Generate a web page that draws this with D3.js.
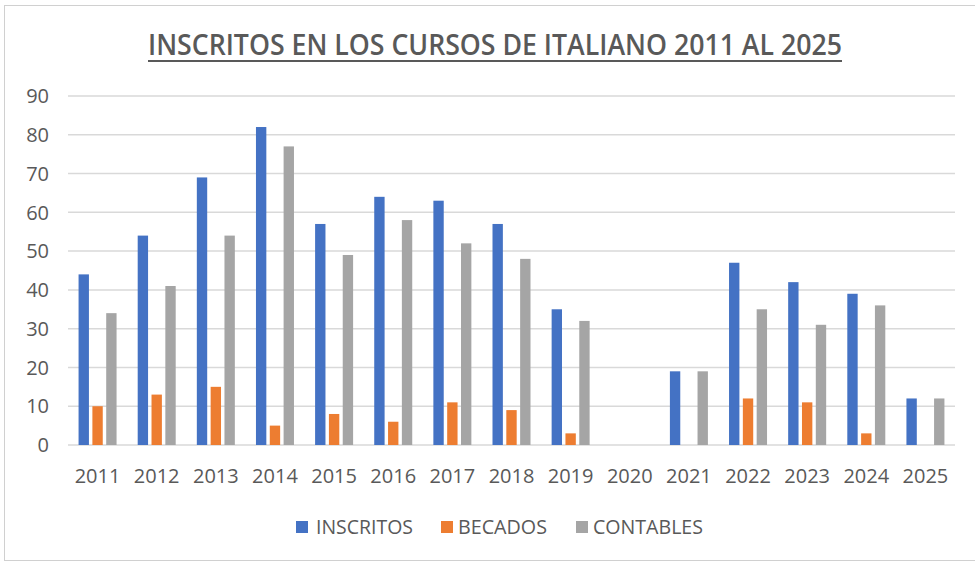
<!DOCTYPE html>
<html lang="en">
<head>
<meta charset="utf-8">
<title>Inscritos cursos de italiano</title>
<script src="https://d3js.org/d3.v7.min.js"></script>
<style>
  body { margin: 0; background: #fff; }
  text { font-family: "Open Sans", "Liberation Sans", sans-serif; fill: #595959; }
</style>
</head>
<body>
<svg width="975" height="561"></svg>
<script>
// data
const years = ["2011","2012","2013","2014","2015","2016","2017","2018","2019","2020","2021","2022","2023","2024","2025"];
const inscritos = [44, 54, 69, 82, 57, 64, 63, 57, 35, 0, 19, 47, 42, 39, 12];
const becados   = [10, 13, 15, 5, 8, 6, 11, 9, 3, 0, 0, 12, 11, 3, 0];
const contables = [34, 41, 54, 77, 49, 58, 52, 48, 32, 0, 19, 35, 31, 36, 12];
const seriesNames = ["INSCRITOS", "BECADOS", "CONTABLES"];
const colors = ["#4472c4", "#ed7d31", "#a5a5a5"];
const yTicks = [0, 10, 20, 30, 40, 50, 60, 70, 80, 90];

const svg = d3.select("svg");
const width = 975, height = 561;

// frame
svg.append("rect")
    .attr("x", 4.5).attr("y", 5.5)
    .attr("width", width - 4).attr("height", height - 6)
    .attr("fill", "none").attr("stroke", "#d0d0d0");

const x = d3.scaleBand().domain(years).range([68, 955]);
const y = d3.scaleLinear().domain([0, 90]).range([445, 96]);
const sub = d3.scaleBand().domain(seriesNames).range([x.bandwidth()/2 - 19, x.bandwidth()/2 + 19]).paddingInner(0.25);

// gridlines
svg.append("g")
    .selectAll("line")
    .data(yTicks)
    .join("line")
    .attr("x1", 68).attr("x2", 955)
    .attr("y1", d => y(d)).attr("y2", d => y(d))
    .attr("stroke", "#d9d9d9")
    .attr("stroke-width", 1.5);

// y labels
svg.append("g")
    .selectAll("text")
    .data(yTicks)
    .join("text")
    .attr("x", 49).attr("y", d => y(d))
    .attr("dy", "0.36em")
    .attr("text-anchor", "end")
    .style("font-size", "20px")
    .text(d => d);

// x labels
svg.append("g")
    .selectAll("text")
    .data(years)
    .join("text")
    .attr("x", d => x(d) + x.bandwidth()/2)
    .attr("y", 483)
    .attr("text-anchor", "middle")
    .style("font-size", "20px")
    .text(d => d);

// bars
const allSeries = [inscritos, becados, contables];
const rows = [];
years.forEach((yr, i) => {
    allSeries.forEach((s, j) => rows.push({year: yr, key: seriesNames[j], value: s[i], color: colors[j]}));
});

svg.append("g")
    .selectAll("rect")
    .data(rows.filter(d => d.value > 0))
    .join("rect")
    .attr("x", d => x(d.year) + sub(d.key))
    .attr("width", sub.bandwidth())
    .attr("y", d => y(d.value))
    .attr("height", d => y(0) - y(d.value))
    .attr("fill", d => d.color);

// title
svg.append("text")
    .attr("x", 495).attr("y", 55)
    .attr("text-anchor", "middle")
    .attr("textLength", 694)
    .attr("lengthAdjust", "spacingAndGlyphs")
    .style("font-size", "28px")
    .style("font-weight", "600")
    .text("INSCRITOS EN LOS CURSOS DE ITALIANO 2011 AL 2025");
svg.append("line")
    .attr("x1", 148).attr("x2", 842)
    .attr("y1", 61).attr("y2", 61)
    .attr("stroke", "#595959").attr("stroke-width", 2);

// legend
const legendX = [296, 441, 576];
const legendW = [97, 89, 110];
const legendPad = [20, 17, 17];
const legend = svg.append("g")
    .selectAll("g")
    .data(seriesNames)
    .join("g")
    .attr("transform", (d, i) => `translate(${legendX[i]},527)`);
legend.append("rect")
    .attr("x", 0).attr("y", -6)
    .attr("width", 12).attr("height", 12)
    .attr("fill", (d, i) => colors[i]);
legend.append("text")
    .attr("x", (d, i) => legendPad[i])
    .attr("dy", "0.36em")
    .attr("textLength", (d, i) => legendW[i])
    .attr("lengthAdjust", "spacingAndGlyphs")
    .style("font-size", "20px")
    .text(d => d);
</script>
</body>
</html>
